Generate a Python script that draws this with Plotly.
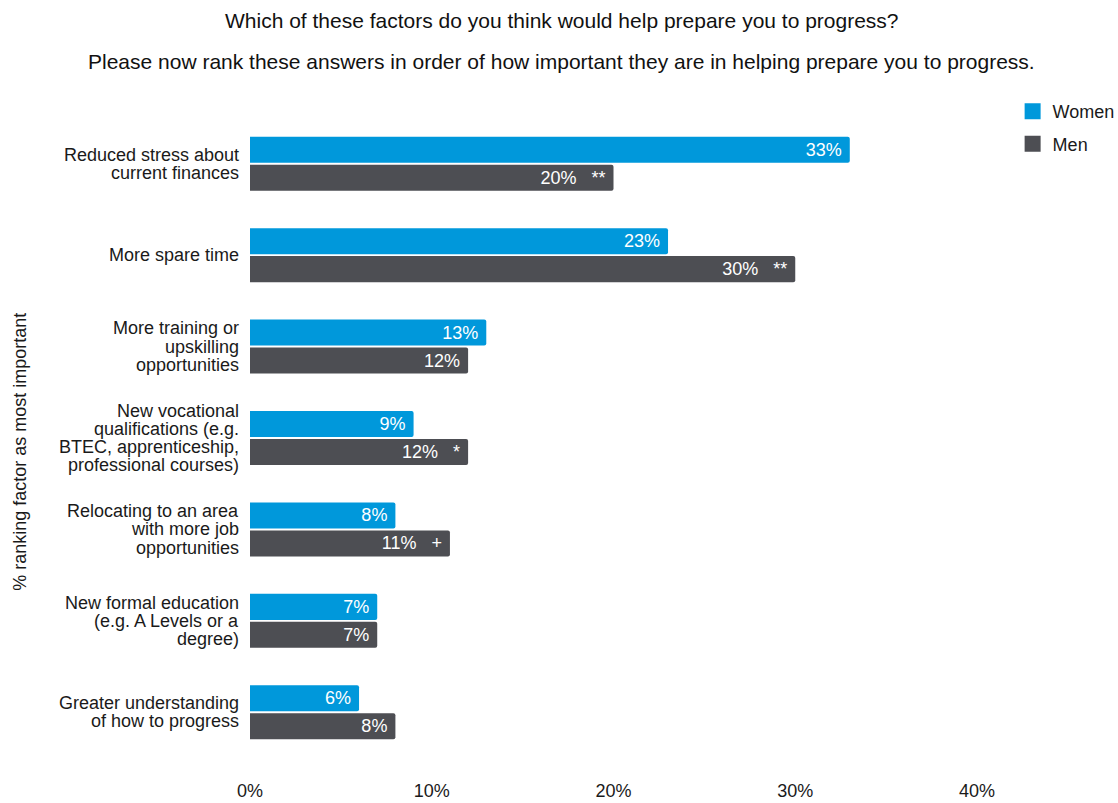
import plotly.graph_objects as go

categories = [
    "Reduced stress about<br>current finances",
    "More spare time",
    "More training or<br>upskilling<br>opportunities",
    "New vocational<br>qualifications (e.g.<br>BTEC, apprenticeship,<br>professional courses)",
    "Relocating to an area<br>with more job<br>opportunities",
    "New formal education<br>(e.g. A Levels or a<br>degree)",
    "Greater understanding<br>of how to progress",
]
women = [33, 23, 13, 9, 8, 7, 6]
men = [20, 30, 12, 12, 11, 7, 8]
men_sig = ["**", "**", "", "*", "+", "", ""]
x_ticks = [0, 10, 20, 30, 40]
x_tick_labels = ["0%", "10%", "20%", "30%", "40%"]

WOMEN_C = "#0098DB"
MEN_C = "#4D4E53"
TXT = "#1a1a1a"
FONT = "Liberation Sans, Arial, sans-serif"
NB = "\u00a0"

women_text = [f"{v}%" + NB for v in women]
men_text = [f"{v}%" + (NB * 3 + s if s else "") + NB for v, s in zip(men, men_sig)]

fig = go.Figure()
fig.add_trace(go.Bar(
    y=categories, x=women, orientation="h", name="Women", showlegend=False,
    marker=dict(color=WOMEN_C, cornerradius=2, line=dict(width=0)),
    text=women_text, textposition="inside", insidetextanchor="end",
    textfont=dict(color="white", size=18, family=FONT),
    hoverinfo="skip",
))
fig.add_trace(go.Bar(
    y=categories, x=men, orientation="h", name="Men", showlegend=False,
    marker=dict(color=MEN_C, cornerradius=2, line=dict(width=0)),
    text=men_text, textposition="inside", insidetextanchor="end",
    textfont=dict(color="white", size=18, family=FONT),
    hoverinfo="skip",
))
# legend entries with square swatches
for name, col in [("Women", WOMEN_C), ("Men", MEN_C)]:
    fig.add_trace(go.Scatter(
        x=[None], y=[None], mode="markers", name=name, legendgroup=name,
        marker=dict(symbol="square", size=18, color=col),
    ))

# category labels with tight line spacing
annotations = []
LINE = 18.3
for cat in categories:
    lines = cat.split("<br>")
    n = len(lines)
    for i, ln in enumerate(lines):
        annotations.append(dict(
            text=ln, xref="paper", yref="y", x=0, y=cat,
            xanchor="right", yanchor="middle", xshift=-9,
            yshift=((n - 1) / 2 - i) * LINE, showarrow=False,
            font=dict(size=18, color=TXT),
        ))

annotations += [
    dict(text="Which of these factors do you think would help prepare you to progress?",
         xref="paper", yref="paper", x=0.429, y=(758.5 - 20) / 640.5,
         xanchor="center", yanchor="middle", showarrow=False,
         font=dict(size=21, color="#111111")),
    dict(text="Please now rank these answers in order of how important they are in helping prepare you to progress.",
         xref="paper", yref="paper", x=0.429, y=(758.5 - 61) / 640.5,
         xanchor="center", yanchor="middle", showarrow=False,
         font=dict(size=21, color="#111111")),
    dict(text="% ranking factor as most important",
         xref="paper", yref="paper", x=(20 - 250) / 727, y=(758.5 - 452) / 640.5,
         xanchor="center", yanchor="middle", textangle=-90, showarrow=False,
         font=dict(size=18, color=TXT)),
]

fig.update_layout(
    width=1118, height=803,
    margin=dict(l=250, r=141, t=118, b=44.5, autoexpand=False),
    plot_bgcolor="white", paper_bgcolor="white",
    font=dict(family=FONT, size=18, color=TXT),
    barmode="group", bargap=0.388, bargroupgap=0.07,
    showlegend=True,
    legend=dict(x=1.049, y=1.039, xanchor="left", yanchor="top",
                font=dict(size=18, color=TXT), itemwidth=30,
                tracegroupgap=6, bgcolor="rgba(0,0,0,0)"),
    xaxis=dict(range=[0, 40], tickvals=x_ticks, ticktext=x_tick_labels,
               showgrid=False, zeroline=False, showline=False,
               ticks="outside", ticklen=16, tickcolor="white",
               tickfont=dict(size=18, color=TXT), fixedrange=True),
    yaxis=dict(autorange="reversed", showgrid=False, zeroline=False,
               showline=False, ticks="", showticklabels=False),
    annotations=annotations,
)

fig.write_html("out.html")
